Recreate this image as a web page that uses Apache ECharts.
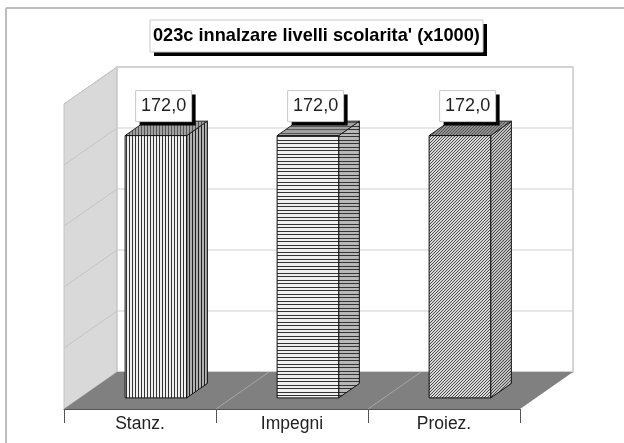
<!DOCTYPE html>
<html>
<head>
<meta charset="utf-8">
<style>
  html, body { margin: 0; padding: 0; background: #fff; }
  #main { width: 624px; height: 443px; }
</style>
<script src="https://cdn.jsdelivr.net/npm/echarts@6/dist/echarts.min.js"></script>
</head>
<body>
<div id="main"></div>
<script>
var titleText = "023c innalzare livelli scolarita' (x1000)";
var categories = ['Stanz.', 'Impegni', 'Proiez.'];
var values = [172.0, 172.0, 172.0];
var valueTicks = [0, 40, 80, 120, 160, 200];

// the fake 3d box: how far the back wall sits from the front plane
var DEPTH_X = 53, DEPTH_Y = -37;
var BAR_NEAR = 0.3, BAR_FAR = 0.69, BAR_WIDTH = 0.405;

function tile(w, h, bg, paint) {
  var c = document.createElement('canvas');
  c.width = w; c.height = h;
  var g = c.getContext('2d');
  g.fillStyle = bg;
  g.fillRect(0, 0, w, h);
  paint(g);
  return { image: c, repeat: 'repeat' };
}
function vert(line, bg) {
  return tile(3, 1, bg, function (g) {
    g.fillStyle = line;
    g.fillRect(0, 0, 1, 1);
  });
}
function horiz(line, bg) {
  return tile(1, 7, bg, function (g) {
    g.fillStyle = line;
    g.fillRect(0, 0, 1, 1);
    g.fillRect(0, 3, 1, 1);
  });
}
function diag(line, bg) {
  return tile(3, 3, bg, function (g) {
    g.fillStyle = line;
    for (var i = 0; i < 3; i++) g.fillRect(2 - i, i, 1, 1);
  });
}
// front, side, top fill for each bar
var barFills = [
  [vert('#333', '#f0f0f0'), vert('#222', '#b0b0b0'), vert('#555', '#a0a0a0')],
  [horiz('#333', '#f0f0f0'), horiz('#333', '#b8b8b8'), horiz('#555', '#a0a0a0')],
  [diag('#4c4c4c', '#d8d8d8'), diag('#4c4c4c', '#c0c0c0'), diag('#555', '#909090')]
];

function poly(points, fill, stroke, width) {
  return {
    type: 'polygon',
    shape: { points: points },
    style: { fill: fill, stroke: stroke || null, lineWidth: width || 1 }
  };
}
function seg(p1, p2, color, width) {
  return {
    type: 'line',
    shape: { x1: p1[0], y1: p1[1], x2: p2[0], y2: p2[1] },
    style: { stroke: color, lineWidth: width || 1 }
  };
}

function renderBox(params, api) {
  var cs = params.coordSys;
  var left = cs.x, right = cs.x + cs.width;
  var floor = api.coord([0, 0])[1], ceil = api.coord([0, valueTicks[valueTicks.length - 1]])[1];
  var kids = [];
  // left wall and back wall
  kids.push(poly([[left, floor], [left, ceil], [left + DEPTH_X, ceil + DEPTH_Y], [left + DEPTH_X, floor + DEPTH_Y]], '#d9d9d9', '#c4c4c4'));
  kids.push(poly([[left + DEPTH_X, floor + DEPTH_Y], [left + DEPTH_X, ceil + DEPTH_Y], [right + DEPTH_X, ceil + DEPTH_Y], [right + DEPTH_X, floor + DEPTH_Y]], '#fff', '#c8c8c8', 1.5));
  valueTicks.forEach(function (v) {
    var y = api.coord([0, v])[1];
    kids.push(seg([left, y], [left + DEPTH_X, y + DEPTH_Y], '#c4c4c4'));
    kids.push(seg([left + DEPTH_X, y + DEPTH_Y], [right + DEPTH_X, y + DEPTH_Y], '#cfcfcf'));
  });
  // floor
  kids.push(poly([[left, floor], [left + DEPTH_X, floor + DEPTH_Y], [right + DEPTH_X, floor + DEPTH_Y], [right, floor]], '#808080'));
  var band = cs.width / categories.length;
  for (var i = 1; i < categories.length; i++) {
    kids.push(seg([left + band * i, floor], [left + band * i + DEPTH_X, floor + DEPTH_Y], '#a6a6a6'));
  }
  return { type: 'group', children: kids };
}

function renderBar(params, api) {
  var idx = api.value(0), val = api.value(1);
  var base = api.coord([idx, 0]), top = api.coord([idx, val]);
  var w = api.size([1, 0])[0] * BAR_WIDTH;
  var nx = DEPTH_X * BAR_NEAR, ny = DEPTH_Y * BAR_NEAR;
  var dx = DEPTH_X * (BAR_FAR - BAR_NEAR), dy = DEPTH_Y * (BAR_FAR - BAR_NEAR);
  var x0 = base[0] - w / 2 + nx, x1 = x0 + w;
  var yb = base[1] + ny, yt = top[1] + ny;
  var fills = barFills[idx];
  var lx = x0 + 10.5, lw = 56, lh = 31, ly = yt - 45;
  return {
    type: 'group',
    children: [
      poly([[x1, yb], [x1, yt], [x1 + dx, yt + dy], [x1 + dx, yb + dy]], fills[1], '#111'),
      poly([[x0, yt], [x1, yt], [x1 + dx, yt + dy], [x0 + dx, yt + dy]], fills[2], '#222'),
      poly([[x0, yb], [x0, yt], [x1, yt], [x1, yb]], fills[0], '#111'),
      { type: 'rect', shape: { x: lx + 4, y: ly + 4, width: lw, height: lh }, style: { fill: '#000' } },
      {
        type: 'rect',
        shape: { x: lx, y: ly, width: lw, height: lh },
        style: { fill: '#fff', stroke: '#c8c8c8', lineWidth: 1 }
      },
      {
        type: 'text',
        style: {
          x: lx + lw / 2, y: ly + lh / 2,
          text: val.toFixed(1).replace('.', ','),
          fill: '#222', align: 'center', verticalAlign: 'middle',
          font: '18px "Liberation Sans", Arial, sans-serif'
        }
      }
    ]
  };
}

var chart = echarts.init(document.getElementById('main'), null, { renderer: 'canvas' });
chart.setOption({
  animation: false,
  backgroundColor: '#fff',
  title: {
    text: titleText,
    left: 153,
    top: 26,
    padding: 0,
    textStyle: {
      fontFamily: '"Liberation Sans", Arial, sans-serif',
      fontSize: 18.2,
      fontWeight: 'bold',
      color: '#000',
      lineHeight: 20
    }
  },
  grid: { left: 64, right: 104, top: 104, bottom: 34 },
  xAxis: {
    type: 'category',
    data: categories,
    z: 5,
    axisLine: { show: true, lineStyle: { color: '#555', width: 1 } },
    axisTick: { show: true, length: 14, lineStyle: { color: '#555', width: 1 } },
    axisLabel: {
      margin: 6,
      color: '#222',
      fontSize: 17.5,
      fontFamily: '"Liberation Sans", Arial, sans-serif'
    }
  },
  yAxis: {
    type: 'value',
    min: valueTicks[0],
    max: valueTicks[valueTicks.length - 1],
    interval: 40,
    show: false
  },
  graphic: [
    { type: 'line', silent: true, shape: { x1: 6, y1: 8, x2: 624, y2: 8 }, style: { stroke: '#bdbdbd', lineWidth: 2 } },
    { type: 'line', silent: true, shape: { x1: 6, y1: 8, x2: 6, y2: 443 }, style: { stroke: '#bdbdbd', lineWidth: 2 } },
    // title box and its hard shadow, the title text sits on top
    { type: 'rect', silent: true, shape: { x: 154, y: 24, width: 333, height: 32 }, style: { fill: '#000' } },
    { type: 'rect', silent: true, shape: { x: 150, y: 20, width: 333, height: 32 }, style: { fill: '#fff', stroke: '#c8c8c8', lineWidth: 1 } }
  ],
  series: [
    { type: 'custom', silent: true, z: 1, clip: false, renderItem: renderBox, data: [[0, 0]], encode: { x: 0, y: 1 } },
    {
      type: 'custom',
      silent: true,
      z: 3,
      clip: false,
      renderItem: renderBar,
      encode: { x: 0, y: 1 },
      data: values.map(function (v, i) { return [i, v]; })
    }
  ]
});
</script>
</body>
</html>
